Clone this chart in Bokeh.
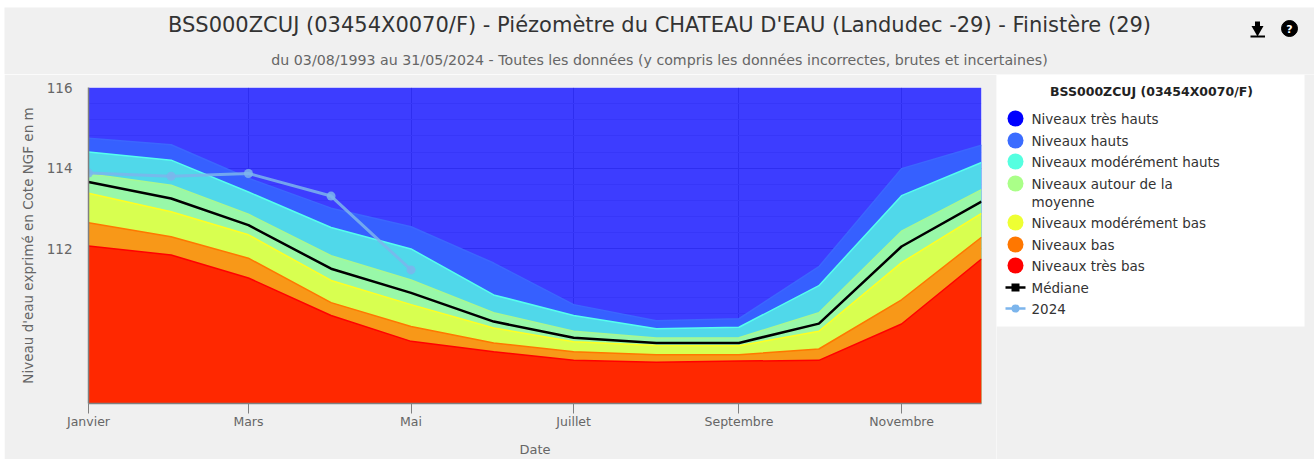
from bokeh.embed import file_html
from bokeh.resources import INLINE
from bokeh.plotting import figure
from bokeh.layouts import column, row
from bokeh.models import FixedTicker, Range1d, Spacer
from bokeh.core.properties import value

# ---------- data ----------
JOURS = [0, 31, 60, 91, 121, 152, 182, 213, 244, 274, 305, 335]
TICK_JOURS = [0, 60, 121, 182, 244, 305]
TICK_MOIS = ["Janvier", "Mars", "Mai", "Juillet", "Septembre", "Novembre"]
Y_TICKS = [112, 114, 116]

tres_hauts_sup = [116.0] * 12
hauts_sup = [114.74, 114.58, 113.75, 113.01, 112.55, 111.65, 110.62, 110.22, 110.27, 111.56, 113.99, 114.57]
mod_hauts_sup = [114.40, 114.20, 113.41, 112.53, 112.00, 110.86, 110.35, 110.02, 110.06, 111.09, 113.32, 114.14]
autour_sup = [113.86, 113.58, 112.86, 111.83, 111.23, 110.42, 109.96, 109.79, 109.80, 110.42, 112.44, 113.47]
mediane = [113.66, 113.25, 112.59, 111.51, 110.91, 110.20, 109.80, 109.67, 109.67, 110.15, 112.06, 113.17]
mod_bas_sup = [113.38, 112.92, 112.35, 111.22, 110.62, 110.04, 109.70, 109.61, 109.60, 109.96, 111.66, 112.88]
bas_sup = [112.65, 112.30, 111.77, 110.67, 110.08, 109.67, 109.45, 109.38, 109.38, 109.52, 110.74, 112.29]
tres_bas_sup = [112.07, 111.85, 111.28, 110.35, 109.71, 109.45, 109.24, 109.19, 109.22, 109.24, 110.14, 111.75]
annee_2024 = [113.88, 113.80, 113.87, 113.31, 111.48]

TITRE = "BSS000ZCUJ (03454X0070/F) - Piézomètre du CHATEAU D'EAU (Landudec -29) - Finistère (29)"
SOUS_TITRE = "du 03/08/1993 au 31/05/2024 - Toutes les données (y compris les données incorrectes, brutes et incertaines)"
LEGENDE_TITRE = "BSS000ZCUJ (03454X0070/F)"
NIVEAUX = ["Niveaux très hauts", "Niveaux hauts", "Niveaux modérément hauts", "Niveaux autour de la",
           "Niveaux modérément bas", "Niveaux bas", "Niveaux très bas"]
COULEURS_LEGENDE = ["#0000ff", "#3b6cff", "#55ffe0", "#aaff88", "#eeff33", "#ff7700", "#ff0000"]

FONT = "DejaVu Sans"
BG = "#f0f0f0"
Y_MIN = 108.17
Y_MAX = 116.0

# ---------- title band ----------
t = figure(width=1310, height=67, x_range=Range1d(4, 1314), y_range=Range1d(74, 7),
           x_axis_location=None, y_axis_location=None, toolbar_location=None,
           output_backend="svg", min_border=0, outline_line_color=None, frame_align=False,
           background_fill_color=BG, border_fill_color=BG)
t.grid.visible = False
t.text([659], [24], text=[TITRE], text_font=value(FONT), text_font_size="21px", text_color="#333333",
       text_align="center", text_baseline="middle")
t.text([659], [59], text=[SOUS_TITRE], text_font=value(FONT), text_font_size="14.2px", text_color="#666666",
       text_align="center", text_baseline="middle")
# download icon and help icon
t.quad(left=[1254.5], right=[1259.5], top=[21], bottom=[27], fill_color="#000000", line_color=None)
t.scatter([1257], [29], size=12, marker="inverted_triangle", fill_color="#000000", line_color=None)
t.quad(left=[1250], right=[1264.5], top=[35], bottom=[37], fill_color="#000000", line_color=None)
t.scatter([1289], [28], size=16, marker="circle", fill_color="#000000", line_color="#000000")
t.text([1289], [28.5], text=["?"], text_font=value(FONT), text_font_size="11px", text_font_style="bold",
       text_color="#ffffff", text_align="center", text_baseline="middle")

# ---------- main chart ----------
p = figure(width=992, height=385, x_range=Range1d(JOURS[0], JOURS[-1]), y_range=Range1d(Y_MIN, Y_MAX),
           toolbar_location=None, output_backend="svg", frame_align=False,
           min_border_left=84, min_border_right=15, min_border_top=13, min_border_bottom=55,
           background_fill_color="#ffffff", border_fill_color=BG, outline_line_color=None,
           x_axis_label="Date", y_axis_label="Niveau d'eau exprimé en Cote NGF en m")

bandes = [
    (tres_hauts_sup, "#0000ff", 0.76, None),
    (hauts_sup, "#3660ff", 1.0, "#3b66ff"),
    (mod_hauts_sup, "#50d8ea", 1.0, "#55ffee"),
    (autour_sup, "#98f8a8", 1.0, "#a8f890"),
    (mod_bas_sup, "#d8ff50", 1.0, "#ffff22"),
    (bas_sup, "#f89818", 1.0, "#ff7700"),
    (tres_bas_sup, "#ff2800", 1.0, "#ff0000"),
]
for sup, col, alpha, ligne in bandes:
    p.varea(JOURS, y1=[Y_MIN] * len(JOURS), y2=sup, fill_color=col, fill_alpha=alpha)
    if ligne:
        p.line(JOURS, sup, line_color=ligne, line_width=1.5)

p.line(JOURS, mediane, line_color="#000000", line_width=2.5)
p.line(JOURS[:5], annee_2024, line_color="#7cb5ec", line_width=3, line_alpha=0.85)
p.scatter(JOURS[:5], annee_2024, size=9, marker="circle", fill_color="#7cb5ec", line_color=None, fill_alpha=0.85)

p.xaxis.ticker = FixedTicker(ticks=TICK_JOURS)
p.xaxis.major_label_overrides = dict(zip(TICK_JOURS, TICK_MOIS))
p.yaxis.ticker = FixedTicker(ticks=Y_TICKS, minor_ticks=[108.4 + 0.4 * i for i in range(19)])
for ax in (p.xaxis, p.yaxis):
    ax.axis_line_color = "#808080"
    ax.axis_line_width = 1.5
    ax.major_label_text_color = "#666666"
    ax.major_label_text_font = FONT
    ax.axis_label_text_color = "#666666"
    ax.axis_label_text_font = FONT
    ax.axis_label_text_font_style = "normal"
    ax.minor_tick_line_color = None
p.xaxis.major_label_text_font_size = "12.5px"
p.yaxis.major_label_text_font_size = "13.5px"
p.xaxis.axis_label_text_font_size = "13px"
p.yaxis.axis_label_text_font_size = "13.5px"
p.xaxis.major_tick_line_color = "#808080"
p.xaxis.major_tick_in = 0
p.xaxis.major_tick_out = 10
p.xaxis.major_label_standoff = 0
p.xaxis.axis_label_standoff = 10
p.yaxis.major_tick_line_color = None
p.yaxis.major_tick_in = 0
p.yaxis.major_tick_out = 0
p.yaxis.major_label_standoff = 12
p.yaxis.axis_label_standoff = 8
p.xgrid.grid_line_color = "#c0c0c0"
p.ygrid.grid_line_color = "#c0c0c0"
p.ygrid.minor_grid_line_color = "#e4e4e4"

# ---------- legend ----------
l = figure(width=318, height=385, x_range=Range1d(996, 1314), y_range=Range1d(459, 74),
           x_axis_location=None, y_axis_location=None, toolbar_location=None,
           output_backend="svg", min_border=0, outline_line_color=None, frame_align=False,
           background_fill_color=BG, border_fill_color=BG)
l.grid.visible = False
l.quad(left=[996], right=[1304], top=[74], bottom=[326], fill_color="#ffffff", line_color=None)
texte = dict(text_font=value(FONT), text_font_size="13.5px", text_color="#333333", text_baseline="middle")
l.text([1151], [91], text=[LEGENDE_TITRE], text_font=value(FONT), text_font_size="12.5px", text_font_style="bold",
       text_color="#222222", text_align="center", text_baseline="middle")
rangs = [118, 140, 161, 183, 222, 244, 265]
l.scatter([1015] * 7, rangs, size=16, marker="circle", fill_color=COULEURS_LEGENDE, line_color=None)
l.text([1031] * 7, rangs, text=NIVEAUX, **texte)
l.text([1031], [201], text=["moyenne"], **texte)
l.line([1005, 1025], [287, 287], line_color="#000000", line_width=2.5)
l.scatter([1015], [287], size=8, marker="square", fill_color="#000000", line_color=None)
l.text([1031], [287], text=["Médiane"], **texte)
l.line([1005, 1025], [308, 308], line_color="#7cb5ec", line_width=2.5)
l.scatter([1015], [308], size=8, marker="circle", fill_color="#7cb5ec", line_color=None)
l.text([1031], [308], text=["2024"], **texte)

page = row(Spacer(width=4), column(Spacer(height=7), t, row(p, l, spacing=0), spacing=0), spacing=0)
open("out.html", "w").write(file_html(page, INLINE))
